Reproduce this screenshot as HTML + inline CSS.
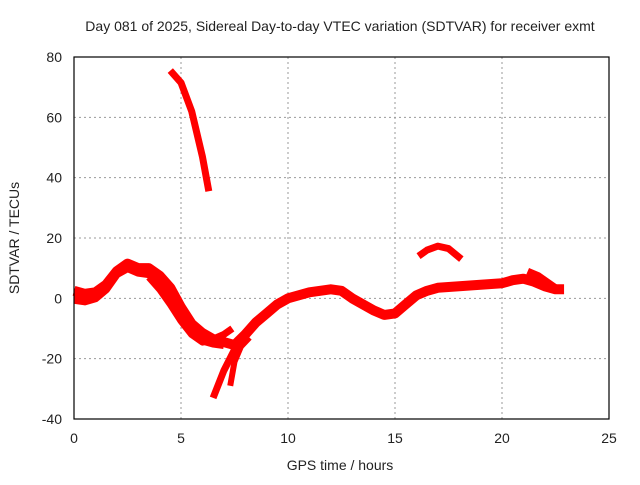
<!DOCTYPE html>
<html><head><meta charset="utf-8"><style>
body{margin:0;background:#fff;}
svg text{font-family:"Liberation Sans",sans-serif;font-size:14px;fill:#222;}
</style></head><body>
<svg width="640" height="480" id="chart">
<text x="340" y="31" text-anchor="middle">Day 081 of 2025, Sidereal Day-to-day VTEC variation (SDTVAR) for receiver exmt</text>
<text x="340" y="470" text-anchor="middle">GPS time / hours</text>
<text transform="translate(19,238) rotate(-90)" text-anchor="middle">SDTVAR / TECUs</text>
<g id="grid"></g>
<g id="series"></g>
<rect x="74" y="57" width="535" height="362" fill="none" stroke="#000" stroke-width="1.2"/>
<g id="ticks"></g>
</svg>
<script>
const xTicks=[0,5,10,15,20,25];
const yTicks=[-40,-20,0,20,40,60,80];
const arc1=[[0,2.5],[0.5,1.5],[1,2],[1.5,4.5],[2,9],[2.5,11.5],[3,10],[3.5,10],[4,7.5],[4.5,3.5],[5,-3],[5.5,-8.5],[6,-11.5],[6.5,-13.5],[7,-14.5],[7.5,-15.5],[8,-12],[8.5,-8],[9,-5],[9.5,-2],[10,0],[11,2],[12,3],[12.5,2.5],[13,0],[14,-4],[14.5,-5.5],[15,-5],[15.5,-2],[16,1],[16.5,2.5],[17,3.5],[18,4],[19,4.5],[20,5],[20.5,6],[21,6.5],[21.5,5.5],[22,4],[22.5,3],[22.9,3]];
const arc2=[[0,-0.5],[0.5,-1],[1,0],[1.5,3],[2,8],[2.5,10],[3,8.5],[3.5,8],[4,5],[4.5,0],[5,-6],[5.5,-11],[6,-14],[6.5,-15],[7,-15.5]];
const arc3=[[3.5,7],[4,3],[4.5,-2],[5,-7.5],[5.5,-12],[6,-14.5],[6.5,-13.5],[7,-12],[7.4,-10]];
const arc4=[[6.5,-33],[7,-24],[7.5,-17],[8,-12.5]];
const arc5=[[7.3,-29],[7.5,-21],[7.8,-16],[8.2,-13]];
const arc6=[[4.5,75.5],[5,71.5],[5.5,62],[6,47],[6.3,35.5]];
const arc7=[[16.1,14],[16.5,16],[17,17.3],[17.5,16.5],[18.1,13]];
const arc8=[[21.2,9],[21.7,7.5],[22.2,5],[22.6,3]];
const arcs=[arc1,arc2,arc3,arc4,arc5,arc6,arc7,arc8];
const widths=[10,8,7,7,6,7,7,7];
const X=v=>74+v*535/25, Y=v=>419-(v+40)*362/120;
const NS="http://www.w3.org/2000/svg";
const g=document.getElementById('grid'),t=document.getElementById('ticks'),s=document.getElementById('series');
function mk(tag,at,p){const e=document.createElementNS(NS,tag);for(const k in at)e.setAttribute(k,at[k]);p.appendChild(e);return e;}
xTicks.forEach(v=>{
 if(v>0&&v<25){const l=mk('line',{x1:X(v),x2:X(v),y1:57,y2:419,stroke:'#999','stroke-dasharray':'2,3'},g);
 
 }
 const tx=mk('text',{x:X(v),y:443,'text-anchor':'middle'},t);tx.textContent=v;
 
 
});
yTicks.forEach(v=>{
 if(v>-40&&v<80){const l=mk('line',{x1:74,x2:609,y1:Y(v),y2:Y(v),stroke:'#999','stroke-dasharray':'2,3'},g);
 
 }
 const tx=mk('text',{x:62,y:Y(v)+5,'text-anchor':'end'},t);tx.textContent=v;
 
 
});
arcs.forEach((a,i)=>{
 const p=mk('polyline',{points:a.map(q=>X(q[0])+','+Y(q[1])).join(' '),fill:'none',stroke:'#f00','stroke-width':widths[i],'stroke-linejoin':'round'},s);
 
 
});
</script>
</body></html>
